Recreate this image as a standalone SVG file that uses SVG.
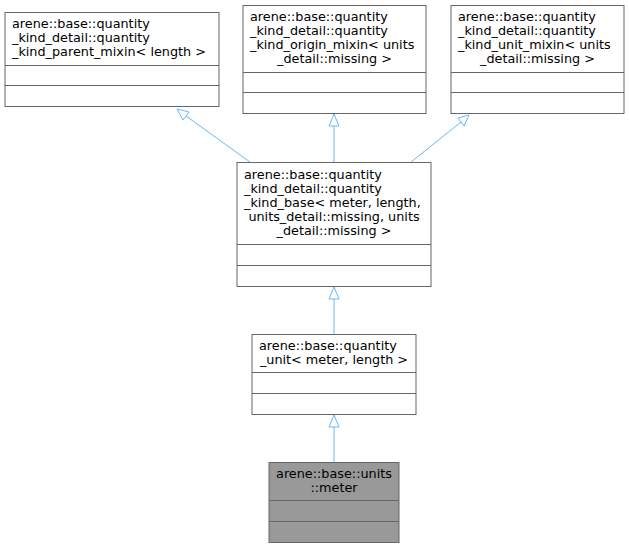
<svg xmlns="http://www.w3.org/2000/svg" width="629" height="548" viewBox="0 0 629 548">
<style>
.b{fill:#fff;stroke:#666;stroke-width:1}
.g{fill:#999;stroke:#666;stroke-width:1}
.s{stroke:#666;stroke-width:1}
text{font-family:"DejaVu Sans",sans-serif;font-size:12.8px;fill:#000}
.m{text-anchor:middle}
.e{stroke:#63b8ff;stroke-width:1;fill:none}
.a{fill:#fff;stroke:#63b8ff;stroke-width:1}
</style>
<rect width="629" height="548" fill="#fff"/>
<g id="connectors">
<path class="e" d="M250,162 L186,116"/><polygon class="a" points="177,109 189,112 183,120"/>
<path class="e" d="M334,162 L334,124"/><polygon class="a" points="334,114 339,126 329,126"/>
<path class="e" d="M411,162 L461,122"/><polygon class="a" points="469,115 464,126 458,118"/>
<path class="e" d="M334,334 L334,298"/><polygon class="a" points="334,287 339,299 329,299"/>
<path class="e" d="M334,462 L334,426"/><polygon class="a" points="334,415 339,427 329,427"/>
</g>
<g id="n1"><rect class="b" x="5" y="12.5" width="214" height="94"/>
<text x="12" y="28">arene::base::quantity</text><text x="12" y="42">_kind_detail::quantity</text><text x="12" y="56">_kind_parent_mixin&lt; length &gt;</text>
<line class="s" x1="5" y1="65.5" x2="219" y2="65.5"/><line class="s" x1="5" y1="85.5" x2="219" y2="85.5"/></g>
<g id="n2"><rect class="b" x="243" y="5.5" width="183" height="108"/>
<text x="250" y="21">arene::base::quantity</text><text x="250" y="35">_kind_detail::quantity</text><text x="250" y="49">_kind_origin_mixin&lt; units</text><text class="m" x="334.5" y="63">_detail::missing &gt;</text>
<line class="s" x1="243" y1="72.5" x2="426" y2="72.5"/><line class="s" x1="243" y1="92.5" x2="426" y2="92.5"/></g>
<g id="n3"><rect class="b" x="451" y="5.5" width="173" height="108"/>
<text x="458" y="21">arene::base::quantity</text><text x="458" y="35">_kind_detail::quantity</text><text x="458" y="49">_kind_unit_mixin&lt; units</text><text class="m" x="537.5" y="63">_detail::missing &gt;</text>
<line class="s" x1="451" y1="72.5" x2="624" y2="72.5"/><line class="s" x1="451" y1="92.5" x2="624" y2="92.5"/></g>
<g id="n4"><rect class="b" x="237" y="162.5" width="194" height="124"/>
<text x="244" y="179">arene::base::quantity</text><text x="244" y="193">_kind_detail::quantity</text><text x="244" y="207">_kind_base&lt; meter, length,</text><text class="m" x="334" y="221">units_detail::missing, units</text><text class="m" x="334" y="235">_detail::missing &gt;</text>
<line class="s" x1="237" y1="244.5" x2="431" y2="244.5"/><line class="s" x1="237" y1="265.5" x2="431" y2="265.5"/></g>
<g id="n5"><rect class="b" x="252" y="334.5" width="164" height="80"/>
<text x="259" y="350">arene::base::quantity</text><text class="m" x="334" y="364">_unit&lt; meter, length &gt;</text>
<line class="s" x1="252" y1="372.5" x2="416" y2="372.5"/><line class="s" x1="252" y1="393.5" x2="416" y2="393.5"/></g>
<g id="n6"><rect class="g" x="269" y="462.5" width="130" height="80"/>
<text class="m" x="334" y="478">arene::base::units</text><text class="m" x="334" y="492">::meter</text>
<line class="s" x1="269" y1="500.5" x2="399" y2="500.5"/><line class="s" x1="269" y1="521.5" x2="399" y2="521.5"/></g>
</svg>
